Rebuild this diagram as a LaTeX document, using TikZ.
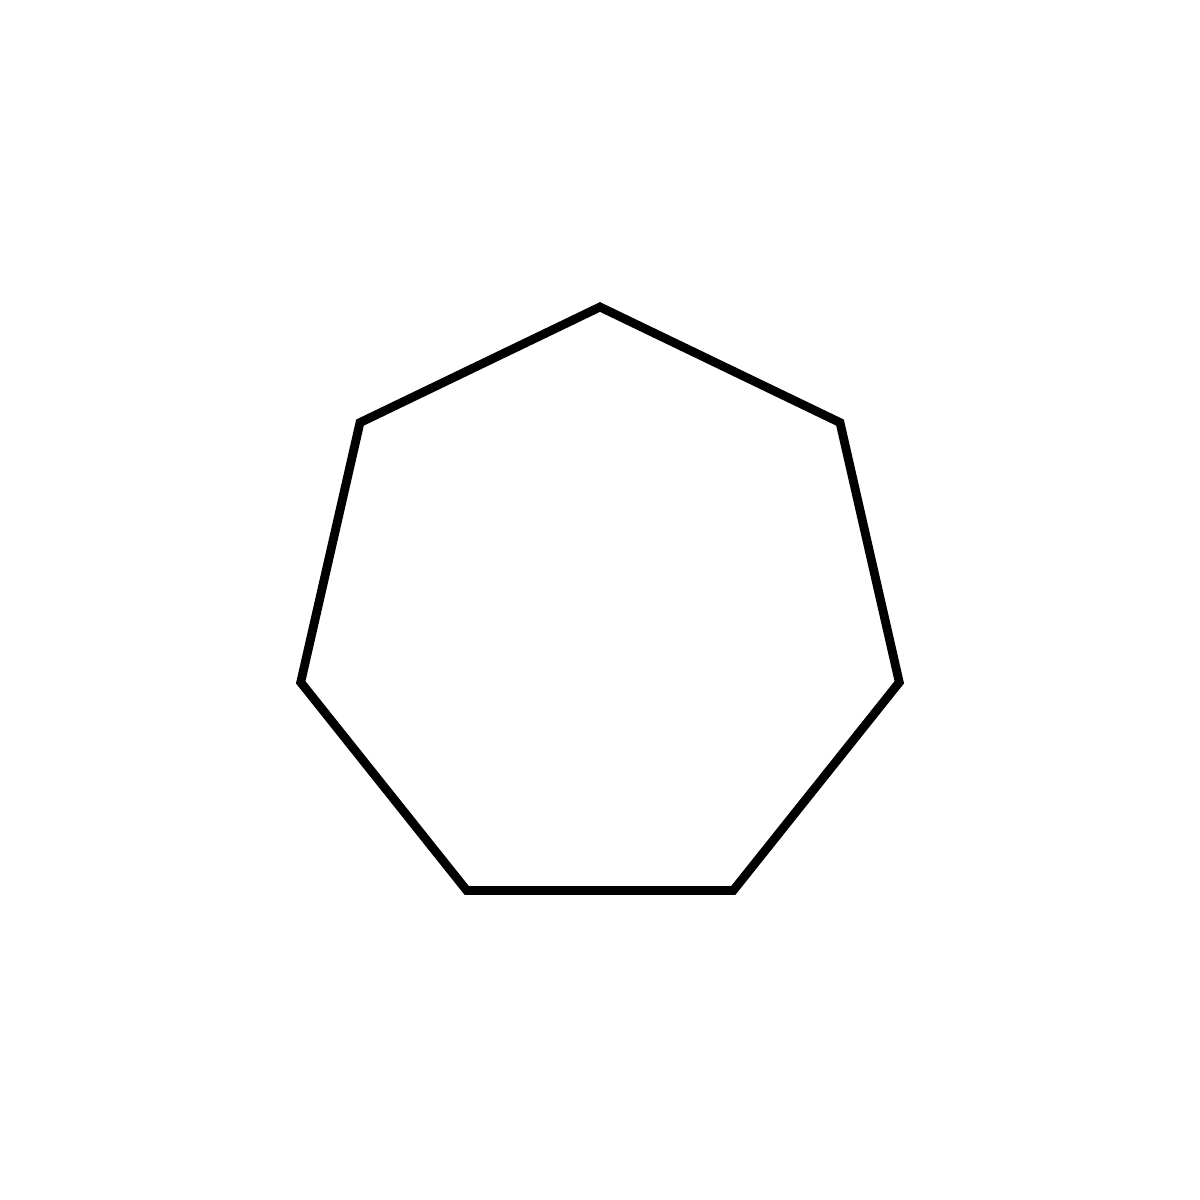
\documentclass[tikz,border=0pt]{standalone}
\usetikzlibrary{calc}
\begin{document}
\begin{tikzpicture}[x=0.01cm,y=0.01cm]
\useasboundingbox (0,0) rectangle (1200,1200);
\coordinate (c) at (600,586);
\foreach \i in {0,...,6} {
  \coordinate (v\i) at ($(c)+({90+\i*360/7}:307)$);
}
\draw[line width=2.5pt, line join=miter]
  (v0) -- (v1) -- (v2) -- (v3) -- (v4) -- (v5) -- (v6) -- cycle;
\end{tikzpicture}
\end{document}
